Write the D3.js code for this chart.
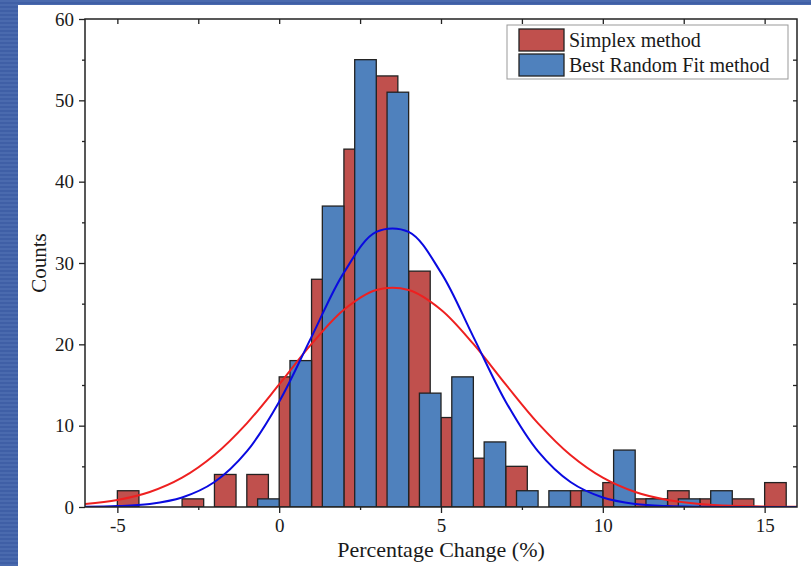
<!DOCTYPE html>
<html>
  <head>
    <meta charset="utf-8">
    <title>Percentage change histogram</title>
    <style>
      body { margin: 0; background: #fff; }
      svg text { font-family: "Liberation Serif", "Times New Roman", serif; fill: #1a1a1a; }
    </style>
  </head>
  <body>
    <script src="https://d3js.org/d3.v7.min.js"></script>
    <script>
      // bins are one unit wide, each starting at binStart[i]
      const binStart = [-6, -5, -4, -3, -2, -1, 0, 1, 2, 3, 4, 5, 6, 7, 8, 9, 10, 11, 12, 13, 14, 15];
      const simplexCounts = [0, 2, 0, 1, 4, 4, 16, 28, 44, 53, 29, 11, 6, 5, 0, 2, 3, 1, 2, 1, 1, 3];
      const randomFitCounts = [0, 0, 0, 0, 0, 1, 18, 37, 55, 51, 14, 16, 8, 2, 2, 2, 7, 1, 1, 2, 0, 0];

      // fitted curves at whole percent steps
      const curveX = [-6, -5, -4, -3, -2, -1, 0, 1, 2, 3, 4, 5, 6, 7, 8, 9, 10, 11, 12, 13, 14, 15, 16];
      const simplexFit = [0.37, 0.87, 1.85, 3.61, 6.4, 10.29, 15.07, 20.05, 24.26, 26.68, 26.68, 24.26, 20.05, 15.07, 10.29, 6.4, 3.61, 1.85, 0.87, 0.37, 0.14, 0.05, 0.02];
      const randomFit = [0.03, 0.11, 0.38, 1.17, 3.07, 6.83, 12.95, 20.92, 28.82, 33.82, 33.82, 28.82, 20.92, 12.95, 6.83, 3.07, 1.17, 0.38, 0.11, 0.03, 0.01, 0, 0];

      const xMajor = [-5, 0, 5, 10, 15];
      const xMinor = [-2.5, 2.5, 7.5, 12.5];
      const yMajor = [0, 10, 20, 30, 40, 50, 60];
      const yMinor = [5, 15, 25, 35, 45, 55];
      const seriesNames = ["Simplex method", "Best Random Fit method"];

      const W = 811, H = 566;
      const pLeft = 85, pRight = 797, pTop = 19, pBottom = 507;
      const red = "#c0504d", blue = "#4f81bd";

      const svg = d3.select("body").append("svg")
        .attr("width", W).attr("height", H);

      // striped blue frame on the left and top
      const defs = svg.append("defs");
      const pat = defs.append("pattern").attr("id", "stripes")
        .attr("width", 4).attr("height", 4).attr("patternUnits", "userSpaceOnUse");
      pat.append("rect").attr("width", 4).attr("height", 4).attr("fill", "#3f5fa6");
      pat.append("rect").attr("width", 4).attr("height", 2).attr("fill", "#4a6aae");
      svg.append("rect").attr("width", W).attr("height", H).attr("fill", "#fff");
      svg.append("rect").attr("x", 0).attr("y", 0).attr("width", 18).attr("height", H).attr("fill", "url(#stripes)");
      svg.append("rect").attr("x", 0).attr("y", 0).attr("width", W).attr("height", 5).attr("fill", "url(#stripes)");

      defs.append("clipPath").attr("id", "plot")
        .append("rect").attr("x", pLeft).attr("y", pTop)
        .attr("width", pRight - pLeft).attr("height", pBottom - pTop);

      const x = d3.scaleLinear().domain([-6, 16]).range([pLeft, pRight]);
      const y = d3.scaleLinear().domain([0, 60]).range([pBottom, pTop]);

      const bars = binStart.map((b, i) => ({ b: b, s: simplexCounts[i], r: randomFitCounts[i] }));

      const g = svg.append("g").attr("clip-path", "url(#plot)");

      g.selectAll("rect.simplex")
        .data(bars.filter(d => d.s > 0))
        .enter().append("rect")
        .attr("class", "simplex")
        .attr("x", d => x(d.b))
        .attr("width", d => x(d.b + 2 / 3) - x(d.b))
        .attr("y", d => y(d.s))
        .attr("height", d => y(0) - y(d.s))
        .attr("fill", red).attr("stroke", "#222").attr("stroke-width", 1.3);

      g.selectAll("rect.random")
        .data(bars.filter(d => d.r > 0))
        .enter().append("rect")
        .attr("class", "random")
        .attr("x", d => x(d.b + 1 / 3))
        .attr("width", d => x(d.b + 1) - x(d.b + 1 / 3))
        .attr("y", d => y(d.r))
        .attr("height", d => y(0) - y(d.r))
        .attr("fill", blue).attr("stroke", "#222").attr("stroke-width", 1.3);

      const line = d3.line()
        .x(d => x(d[0]))
        .y(d => y(d[1]))
        .curve(d3.curveCatmullRom);

      g.append("path")
        .datum(curveX.map((v, i) => [v, simplexFit[i]]))
        .attr("d", line)
        .attr("fill", "none").attr("stroke", "#ee2020").attr("stroke-width", 2);

      g.append("path")
        .datum(curveX.map((v, i) => [v, randomFit[i]]))
        .attr("d", line)
        .attr("fill", "none").attr("stroke", "#0a0ae0").attr("stroke-width", 2);

      // axes
      const styleAxis = sel => {
        sel.select(".domain").remove();
        sel.selectAll(".tick line").attr("stroke", "#222").attr("stroke-width", 1.3);
        sel.selectAll(".tick text").attr("font-size", 19)
          .attr("font-family", "Liberation Serif").attr("fill", "#1a1a1a");
      };

      svg.append("g").attr("transform", `translate(0,${pBottom})`)
        .call(d3.axisBottom(x).tickValues(xMajor).tickSize(6).tickPadding(6).tickFormat(d => String(d)))
        .call(styleAxis);
      svg.append("g").attr("transform", `translate(0,${pBottom})`)
        .call(d3.axisBottom(x).tickValues(xMinor).tickSize(3).tickFormat(""))
        .call(styleAxis);
      svg.append("g").attr("transform", `translate(0,${pTop})`)
        .call(d3.axisBottom(x).tickValues(xMinor.concat(xMajor)).tickSize(5).tickFormat(""))
        .call(styleAxis);

      svg.append("g").attr("transform", `translate(${pLeft},0)`)
        .call(d3.axisLeft(y).tickValues(yMajor).tickSize(6).tickPadding(5))
        .call(styleAxis);
      svg.append("g").attr("transform", `translate(${pLeft},0)`)
        .call(d3.axisLeft(y).tickValues(yMinor).tickSize(3).tickFormat(""))
        .call(styleAxis);
      svg.append("g").attr("transform", `translate(${pRight},0)`)
        .call(d3.axisLeft(y).tickValues(yMinor.concat(yMajor.slice(1, -1))).tickSize(4).tickFormat(""))
        .call(styleAxis);

      svg.append("rect")
        .attr("x", pLeft).attr("y", pTop)
        .attr("width", pRight - pLeft).attr("height", pBottom - pTop)
        .attr("fill", "none").attr("stroke", "#222").attr("stroke-width", 1.5);

      svg.append("text")
        .attr("x", 441).attr("y", 557)
        .attr("text-anchor", "middle").attr("font-size", 22)
        .text("Percentage Change (%)");

      svg.append("text")
        .attr("transform", `translate(46,${(pTop + pBottom) / 2}) rotate(-90)`)
        .attr("text-anchor", "middle").attr("font-size", 21)
        .text("Counts");

      // legend
      const lg = svg.append("g");
      lg.append("rect").attr("x", 507).attr("y", 25).attr("width", 281).attr("height", 54)
        .attr("fill", "#fff").attr("stroke", "#999").attr("stroke-width", 1);
      [red, blue].forEach((c, i) => {
        lg.append("rect").attr("x", 519).attr("y", 29 + i * 25).attr("width", 45).attr("height", 22)
          .attr("fill", c).attr("stroke", "#222").attr("stroke-width", 1.3);
        lg.append("text").attr("x", 569).attr("y", 47 + i * 25)
          .attr("font-size", 20).text(seriesNames[i]);
      });
    </script>
  </body>
</html>
